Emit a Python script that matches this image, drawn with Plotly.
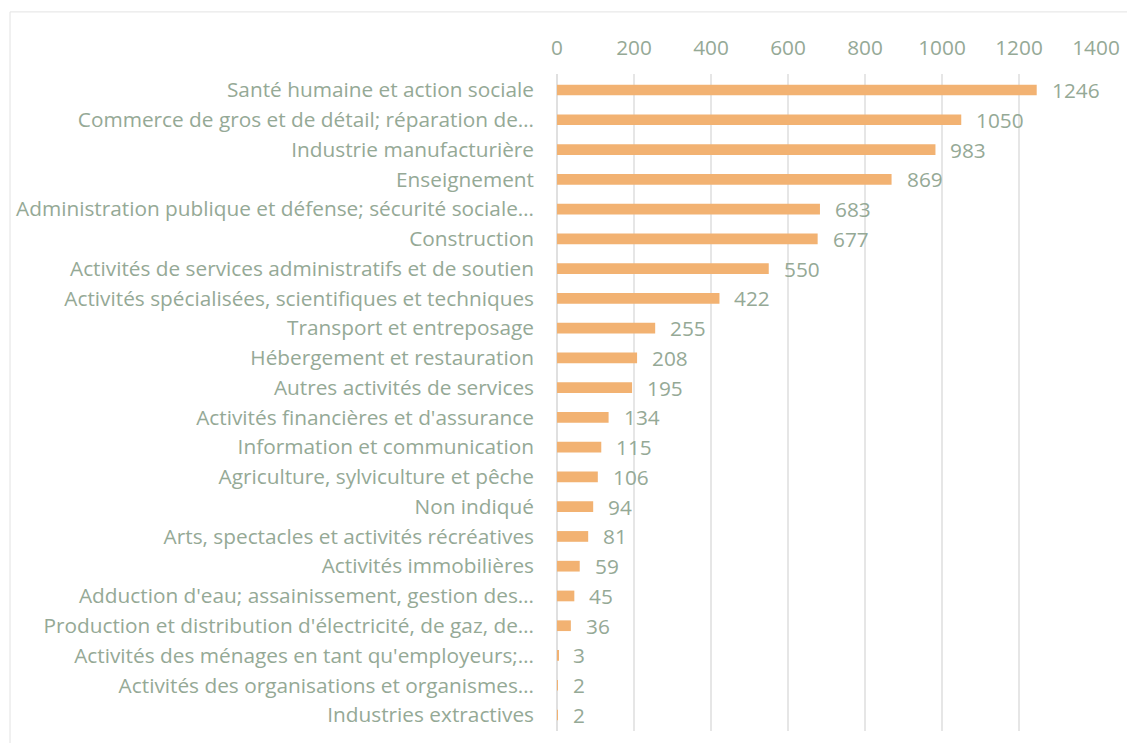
import plotly.graph_objects as go

categories = [
    "Santé humaine et action sociale",
    "Commerce de gros et de détail; réparation de…",
    "Industrie manufacturière",
    "Enseignement",
    "Administration publique et défense; sécurité sociale…",
    "Construction",
    "Activités de services administratifs et de soutien",
    "Activités spécialisées, scientifiques et techniques",
    "Transport et entreposage",
    "Hébergement et restauration",
    "Autres activités de services",
    "Activités financières et d'assurance",
    "Information et communication",
    "Agriculture, sylviculture et pêche",
    "Non indiqué",
    "Arts, spectacles et activités récréatives",
    "Activités immobilières",
    "Adduction d'eau; assainissement, gestion des…",
    "Production et distribution d'électricité, de gaz, de…",
    "Activités des ménages en tant qu'employeurs;…",
    "Activités des organisations et organismes…",
    "Industries extractives",
]
values = [1246, 1050, 983, 869, 683, 677, 550, 422, 255, 208, 195, 134, 115, 106, 94, 81, 59, 45, 36, 3, 2, 2]
tick_values = [0, 200, 400, 600, 800, 1000, 1200, 1400]

TXT = "#95A996"
BAR = "#F2B272"
FONT = "Open Sans"
FS = 20.8

fig = go.Figure(
    go.Bar(
        x=values,
        y=categories,
        orientation="h",
        marker=dict(color=BAR, line=dict(width=0)),
        hoverinfo="x+y",
    )
)

for c, v in zip(categories, values):
    fig.add_annotation(
        x=v, y=c, text=str(v), showarrow=False, xanchor="left", xshift=13,
        font=dict(family=FONT, size=FS, color=TXT),
    )

# outer chart-area border (in paper coords relative to the plot domain)
fig.add_shape(
    type="rect", xref="paper", yref="paper",
    x0=-1.0148, y0=-1.0, x1=2.0, y1=1.0945,
    line=dict(color="#E3E3E3", width=1), fillcolor="rgba(0,0,0,0)", layer="below",
)

fig.update_layout(
    width=1119, height=735,
    margin=dict(l=549, r=31, t=66, b=12, autoexpand=False),
    paper_bgcolor="white", plot_bgcolor="white",
    bargap=0.64,
    showlegend=False,
    font=dict(family=FONT, size=FS, color=TXT),
    xaxis=dict(
        side="top", range=[0, 1400], tickvals=tick_values,
        showgrid=True, gridcolor="#E6E6E6", gridwidth=1.5,
        zeroline=True, zerolinecolor="#E0E0E0", zerolinewidth=1.5,
        showline=False, ticks="", ticklabelstandoff=14, automargin=False,
        tickfont=dict(family=FONT, size=FS, color=TXT),
        fixedrange=True,
    ),
    yaxis=dict(
        categoryorder="array", categoryarray=categories[::-1],
        showgrid=False, showline=False, ticks="", automargin=False,
        ticklabelstandoff=22,
        tickfont=dict(family=FONT, size=FS, color=TXT),
        fixedrange=True,
    ),
)

fig.write_html("out.html")
